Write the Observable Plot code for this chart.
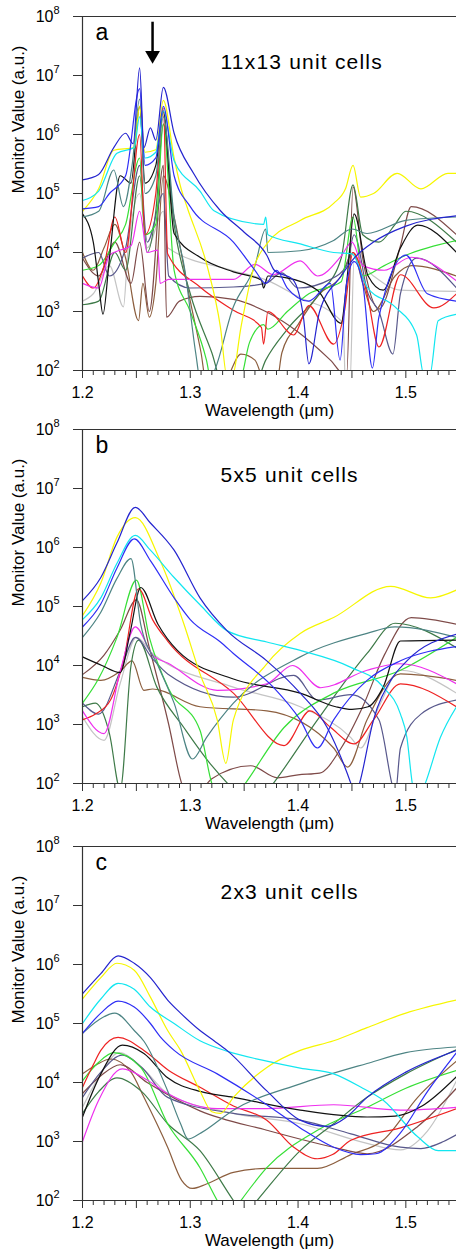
<!DOCTYPE html>
<html><head><meta charset="utf-8">
<script src="https://cdn.jsdelivr.net/npm/d3@7"></script>
<script src="https://cdn.jsdelivr.net/npm/@observablehq/plot@0.6"></script>
<style>
html,body{margin:0;padding:0;background:#fff;overflow:hidden;}
#wrap{position:relative;width:456px;height:1253px;overflow:hidden;}
#wrap svg{position:absolute;left:0;}
</style></head><body><div id="wrap"></div>
<script>
// ---------- axis ticks / labels ----------
const xLabelTicks = [1.2, 1.3, 1.4, 1.5];
const xMidTicks = [1.25, 1.35, 1.45];
const xMinorTicks = [1.21,1.22,1.23,1.24,1.26,1.27,1.28,1.29,1.31,1.32,1.33,1.34,1.36,1.37,1.38,1.39,1.41,1.42,1.43,1.44,1.46,1.47,1.48,1.49,1.51,1.52,1.53,1.54];
const yTicks = [1e2, 1e3, 1e4, 1e5, 1e6, 1e7, 1e8];
const yExponents = ["2", "3", "4", "5", "6", "7", "8"];
const panelLetters = ["a", "b", "c"];
const panelTitles = ["11x13 unit cells", "5x5 unit cells", "2x3 unit cells"];
const xTitle = "Wavelength (\u03bcm)";
const yTitle = "Monitor Value (a.u.)";
const arrowX = [1.265];

// ---------- colours ----------
const BLUE1 = "#2424cf", BLUE2 = "#2e2ef5", YELLOW = "#f6f600", CYAN = "#12e6f0",
      TEAL = "#4d8484", RED = "#ee2222", BLACK = "#111111", GREEN = "#36df36",
      DKGREEN = "#3e7a48", GRAY = "#c4c4c4", SLATE = "#58588c", BROWN = "#8c5e3e",
      BROWN2 = "#7e4a48", MAGENTA = "#ee30ee";

// ---------- panel a : 11x13 unit cells ----------
const a_blue1 = [[1.2,1.7e5],[1.215,2.1e5],[1.229,6e5],[1.24,1.05e6],[1.247,7e5],[1.253,1.35e7],[1.257,6e5],[1.263,1.3e6],[1.268,8e5],[1.275,6.3e6],[1.285,1.05e6],[1.303,2.2e5],[1.328,5.1e4],[1.35,2.2e4],[1.371,9e3],[1.378,5e3],[1.395,3.5e3],[1.405,800],[1.41,130],[1.42,1e3],[1.44,4e3],[1.452,8e3],[1.47,1.5e4],[1.5,2.8e4],[1.547,4.2e4]];
const a_cyan = [[1.2,7.6e4],[1.215,1.1e5],[1.232,4.8e5],[1.248,6e5],[1.253,2e6],[1.258,4e5],[1.268,5e5],[1.275,2.5e6],[1.285,3.6e5],[1.309,1.1e5],[1.322,5.1e4],[1.359,3.1e4],[1.368,3e4],[1.37,4e4],[1.372,2e4],[1.402,1.4e4],[1.433,1e4],[1.45,9.5e3],[1.464,2.6e3],[1.49,1.2e3],[1.51,400],[1.517,80],[1.522,80],[1.53,700],[1.547,900]];
const a_yellow = [[1.2,5e4],[1.215,1.2e5],[1.229,5.4e5],[1.248,6e5],[1.253,3e6],[1.258,5e5],[1.268,5.5e5],[1.275,3.8e6],[1.285,4e5],[1.291,1.3e5],[1.297,5.9e4],[1.316,5.6e3],[1.328,540],[1.334,80],[1.339,80],[1.347,540],[1.359,5.6e3],[1.371,1.4e4],[1.402,3.5e4],[1.433,6.8e4],[1.444,1.2e5],[1.451,3e5],[1.458,8.7e4],[1.47,1e5],[1.492,2.2e5],[1.514,1.2e5],[1.539,2.2e5],[1.547,2.2e5]];
const a_teal = [[1.2,4e4],[1.215,5e4],[1.229,2.5e5],[1.238,6e4],[1.246,3e5],[1.253,4e6],[1.258,1e5],[1.268,2e5],[1.275,2e6],[1.285,4e4],[1.295,5e3],[1.305,200],[1.31,60],[1.32,80],[1.34,1.2e3],[1.36,6e3],[1.37,2.5e4],[1.372,1e4],[1.402,1.07e4],[1.433,1.6e4],[1.45,2.5e4],[1.464,2.1e4],[1.5,3.5e4],[1.547,4e4]];
const a_black = [[1.2,4.5e4],[1.21,1.5e4],[1.215,3e3],[1.219,900],[1.225,8e3],[1.235,2e5],[1.245,1.5e5],[1.253,3e6],[1.258,1.5e5],[1.268,3e5],[1.275,2.5e6],[1.285,2.1e4],[1.309,8.3e3],[1.34,4.7e3],[1.366,3.4e3],[1.368,2.5e3],[1.372,4e3],[1.387,3.8e3],[1.418,2.3e3],[1.44,630],[1.445,3e3],[1.452,4.5e4],[1.465,4e3],[1.479,2.3e3],[1.495,1.2e4],[1.511,2.9e4],[1.547,1e4]];
const a_red = [[1.2,4e3],[1.21,2.5e3],[1.22,6e3],[1.23,4e4],[1.24,1e4],[1.253,1e6],[1.258,2e4],[1.268,1e5],[1.275,2.8e6],[1.279,9.5e3],[1.309,2.6e3],[1.34,1.05e3],[1.366,540],[1.368,280],[1.372,1e3],[1.396,400],[1.41,1.26e3],[1.433,280],[1.443,1e3],[1.451,1e4],[1.464,2e3],[1.475,250],[1.495,4.2e3],[1.526,1.15e3],[1.547,2e3]];
const a_green = [[1.2,5e3],[1.215,6e3],[1.23,1.5e4],[1.24,3e4],[1.253,4e5],[1.258,2e4],[1.268,3e4],[1.275,1.5e6],[1.285,5e3],[1.3,1e3],[1.315,150],[1.32,60],[1.345,60],[1.355,300],[1.368,600],[1.372,500],[1.39,1e3],[1.41,2e3],[1.44,3.2e3],[1.451,4e4],[1.46,4e3],[1.48,6e3],[1.5,9e3],[1.547,1.6e4]];
const a_gray = [[1.2,1.5e3],[1.21,2e3],[1.225,6e3],[1.238,1.2e3],[1.242,1e4],[1.253,1e5],[1.26,1.2e4],[1.275,5e4],[1.279,1.2e4],[1.34,4.9e3],[1.371,3.4e3],[1.402,1.7e3],[1.433,900],[1.442,600],[1.444,50],[1.448,50],[1.452,8e3],[1.47,4e3],[1.495,2.3e3],[1.547,2.2e3]];
const a_magenta = [[1.2,3e3],[1.215,2.5e3],[1.225,9e3],[1.235,1.1e4],[1.245,1.3e4],[1.253,5e4],[1.26,1e4],[1.27,1.1e4],[1.272,3e3],[1.28,3.5e3],[1.34,3.5e3],[1.36,6.3e3],[1.377,4.2e3],[1.402,7.2e3],[1.418,4e3],[1.44,8.7e3],[1.45,1.5e4],[1.46,6e3],[1.48,5e3],[1.505,8.3e3],[1.547,3.3e3]];
const a_brown = [[1.2,1e4],[1.21,5e3],[1.22,1.2e4],[1.23,3e4],[1.24,8e3],[1.252,700],[1.256,3e3],[1.262,800],[1.268,3e3],[1.275,2e5],[1.285,4e4],[1.3,1.5e3],[1.31,200],[1.315,60],[1.33,60],[1.347,190],[1.36,150],[1.37,60],[1.38,60],[1.385,200],[1.4,600],[1.42,2e3],[1.44,4e3],[1.451,1e4],[1.46,3e3],[1.47,1e3],[1.49,4e3],[1.505,6e3],[1.547,4e3]];
const a_brown2 = [[1.2,8e3],[1.215,4e3],[1.23,1.5e4],[1.245,3e3],[1.253,1.5e4],[1.262,1e3],[1.275,3e5],[1.278,800],[1.29,1.5e3],[1.309,1.8e3],[1.34,1.6e3],[1.37,1e3],[1.4,450],[1.43,150],[1.445,80],[1.451,1.3e5],[1.46,8e3],[1.475,1.1e3],[1.495,1.3e4],[1.505,6e4],[1.547,2e4]];
const a_dkgreen = [[1.2,1.3e3],[1.215,1.5e3],[1.23,1e4],[1.24,5e3],[1.253,2e5],[1.26,1e4],[1.268,5e4],[1.275,1.5e6],[1.285,3e4],[1.3,2e3],[1.32,200],[1.33,60],[1.36,60],[1.37,150],[1.39,500],[1.42,2e3],[1.44,8e3],[1.451,1.4e5],[1.46,2e4],[1.475,1.5e4],[1.49,3e4],[1.5,5e4],[1.547,1.5e4]];
const a_slate = [[1.2,8e3],[1.215,1e4],[1.225,4e3],[1.24,1.2e4],[1.253,3e5],[1.26,1.5e4],[1.275,1e5],[1.28,4e3],[1.3,2.5e3],[1.34,2.6e3],[1.37,3e3],[1.385,4.5e3],[1.4,2.5e3],[1.43,3.5e3],[1.445,6e3],[1.452,2e4],[1.465,2e3],[1.475,1e3],[1.488,190],[1.495,2e3],[1.51,8e3],[1.547,2.5e3]];
const a_blue2 = [[1.2,5.5e4],[1.215,6e4],[1.225,1e5],[1.24,2e5],[1.253,6e6],[1.258,3e5],[1.268,4e5],[1.275,3e6],[1.285,2e5],[1.3,6e4],[1.34,1.5e4],[1.36,5e3],[1.37,3e3],[1.38,5e3],[1.39,2.5e3],[1.41,1.5e3],[1.43,3e3],[1.439,150],[1.445,3e3],[1.452,7e3],[1.46,3e3],[1.469,110],[1.475,800],[1.5,9e3],[1.52,2e3],[1.547,1.5e3]];

// ---------- panel b : 5x5 unit cells ----------
const b_blue1 = [[1.2,1.26e5],[1.217,3.1e5],[1.232,1.2e6],[1.249,4.8e6],[1.263,2.6e6],[1.285,9e5],[1.309,1.4e5],[1.334,3.9e4],[1.371,1.2e4],[1.402,3.4e3],[1.427,890],[1.442,220],[1.449,100],[1.453,60],[1.457,100],[1.47,1.2e3],[1.486,5.6e3],[1.501,1.2e4],[1.547,3.4e4]];
const b_yellow = [[1.2,7e4],[1.217,2.5e5],[1.232,1.5e6],[1.249,3.2e6],[1.272,6e5],[1.294,5.1e4],[1.309,7.2e3],[1.325,1.2e3],[1.333,220],[1.34,1.2e3],[1.371,1.07e4],[1.402,3.5e4],[1.433,6.5e4],[1.486,2.2e5],[1.523,1.4e5],[1.547,1.9e5]];
const b_cyan = [[1.2,6e4],[1.217,1.4e5],[1.232,5.4e5],[1.249,1.6e6],[1.263,9e5],[1.285,3.1e5],[1.309,1.07e5],[1.334,3.9e4],[1.371,2.5e4],[1.402,1.8e4],[1.449,9.3e3],[1.479,4.3e3],[1.495,1.5e3],[1.501,600],[1.506,100],[1.511,50],[1.518,100],[1.532,600],[1.547,2e3]];
const b_blue2 = [[1.2,4.5e4],[1.217,1.1e5],[1.232,4.5e5],[1.248,1.4e6],[1.263,6e5],[1.285,1.4e5],[1.3,6e4],[1.328,2.5e4],[1.34,1.6e4],[1.377,4.3e3],[1.402,1.2e3],[1.418,400],[1.433,1.2e3],[1.464,5.6e3],[1.495,1.2e4],[1.547,2.1e4]];
const b_teal = [[1.2,3e4],[1.217,8e4],[1.232,3e5],[1.245,6.5e5],[1.254,5e4],[1.27,1e4],[1.285,2.3e3],[1.302,260],[1.315,600],[1.34,2.3e3],[1.402,1.4e4],[1.464,3.5e4],[1.49,4.5e4],[1.547,3e4]];
const b_red = [[1.2,1.2e3],[1.212,1.5e3],[1.226,2.6e3],[1.238,1.2e4],[1.252,2e5],[1.265,6e4],[1.279,2.6e4],[1.34,3.4e3],[1.387,440],[1.411,1.7e3],[1.43,900],[1.452,470],[1.47,1.2e3],[1.495,4.9e3],[1.547,2e3]];
const b_black = [[1.2,1.4e4],[1.218,1e4],[1.235,7.6e3],[1.244,3.5e4],[1.254,2.1e5],[1.27,5e4],[1.288,1.8e4],[1.34,5.9e3],[1.402,3.4e3],[1.435,2e3],[1.45,1.8e3],[1.465,2e3],[1.479,4.3e3],[1.495,2.6e4],[1.547,2.7e4]];
const b_green = [[1.2,2.3e3],[1.215,6e3],[1.232,3e4],[1.25,2.8e5],[1.262,3e4],[1.28,4e3],[1.309,800],[1.32,100],[1.335,40],[1.351,100],[1.387,890],[1.433,3.4e3],[1.495,8.3e3],[1.547,3e4]];
const b_dkgreen = [[1.2,2e3],[1.212,2.3e3],[1.225,700],[1.235,80],[1.245,1e4],[1.252,2.7e4],[1.269,4.3e3],[1.294,890],[1.32,200],[1.34,80],[1.36,40],[1.377,100],[1.418,1.2e3],[1.464,1.6e4],[1.49,5.2e4],[1.547,2e4]];
const b_gray = [[1.2,1.35e3],[1.22,540],[1.235,5e3],[1.25,3e4],[1.265,1.6e4],[1.34,4.3e3],[1.402,2e3],[1.449,600],[1.458,400],[1.475,2e3],[1.495,8.3e3],[1.547,3.4e3]];
const b_magenta = [[1.2,1.7e3],[1.22,700],[1.235,8e3],[1.249,4.5e4],[1.265,1.5e4],[1.279,1.1e4],[1.325,3.8e3],[1.371,4.9e3],[1.395,1e4],[1.421,4.2e3],[1.464,8.3e3],[1.495,1.07e4],[1.547,4.9e3]];
const b_slate = [[1.2,2.3e3],[1.215,1.5e3],[1.235,8e3],[1.249,3e4],[1.265,1.3e4],[1.279,7.2e3],[1.34,2.9e3],[1.396,6.8e3],[1.418,2.6e3],[1.449,3.2e3],[1.475,1.2e3],[1.487,100],[1.49,60],[1.495,400],[1.514,1.5e3],[1.547,2.6e3]];
const b_brown = [[1.2,6.3e3],[1.217,5.6e3],[1.235,8e3],[1.246,1.2e4],[1.257,3.8e3],[1.265,4e3],[1.309,2e3],[1.371,1.7e3],[1.433,400],[1.446,190],[1.464,1.2e3],[1.495,7.2e3],[1.547,5.6e3]];
const b_brown2 = [[1.2,7e3],[1.22,1.5e4],[1.235,4e4],[1.25,1.3e5],[1.262,2e4],[1.28,1e3],[1.292,100],[1.3,50],[1.32,120],[1.356,200],[1.381,125],[1.4,140],[1.42,150],[1.44,400],[1.46,2e3],[1.48,1.5e4],[1.505,6.5e4],[1.547,5e4]];

// ---------- panel c : 2x3 unit cells ----------
const c_blue1 = [[1.2,3.2e5],[1.217,7e5],[1.233,1.4e6],[1.248,1.05e6],[1.263,6e5],[1.279,2.5e5],[1.291,1.5e5],[1.309,7.6e4],[1.322,5.1e4],[1.334,3.5e4],[1.371,7.2e3],[1.402,2.3e3],[1.427,1.8e3],[1.445,2.6e3],[1.464,5.6e3],[1.5,1.5e4],[1.547,3.5e4]];
const c_yellow = [[1.2,2.6e5],[1.217,6e5],[1.232,1.05e6],[1.248,8e5],[1.263,2.8e5],[1.279,7.6e4],[1.291,3.5e4],[1.309,7.2e3],[1.32,3.2e3],[1.328,3e3],[1.34,5.6e3],[1.371,1.8e4],[1.402,3.5e4],[1.433,5.1e4],[1.464,8.5e4],[1.5,1.5e5],[1.547,2.5e5]];
const c_cyan = [[1.2,1e5],[1.217,2.6e5],[1.233,4.8e5],[1.248,3.8e5],[1.263,1.9e5],[1.285,1e5],[1.309,5.1e4],[1.334,3.4e4],[1.371,2.3e4],[1.402,1.75e4],[1.433,1.4e4],[1.46,8e3],[1.479,5e3],[1.511,1.2e3],[1.53,700],[1.547,700]];
const c_blue2 = [[1.2,6.8e4],[1.217,1.5e5],[1.233,2.4e5],[1.248,1.9e5],[1.263,1e5],[1.272,6e4],[1.285,3.5e4],[1.325,1.4e4],[1.371,4.2e3],[1.402,1.7e3],[1.433,800],[1.458,600],[1.472,620],[1.495,1.4e3],[1.52,7e3],[1.547,3.2e4]];
const c_teal = [[1.2,6.8e4],[1.215,1.15e5],[1.23,1.5e5],[1.248,7.6e4],[1.257,5e4],[1.279,7.2e3],[1.291,2e3],[1.298,1.1e3],[1.31,1.4e3],[1.34,3.4e3],[1.402,9.5e3],[1.464,2.1e4],[1.5,3.2e4],[1.547,4e4]];
const c_red = [[1.2,8.3e3],[1.21,2e4],[1.217,3.5e4],[1.233,5.8e4],[1.257,3.5e4],[1.28,1.6e4],[1.309,8.3e3],[1.34,4e3],[1.371,2.3e3],[1.396,800],[1.418,510],[1.432,600],[1.449,1.05e3],[1.495,1.7e3],[1.547,3.6e3]];
const c_black = [[1.2,2.6e3],[1.217,1.4e4],[1.237,4.3e4],[1.257,3.1e4],[1.279,1.2e4],[1.31,7e3],[1.34,5.6e3],[1.402,3.4e3],[1.464,2.6e3],[1.49,2.7e3],[1.515,4e3],[1.547,1.26e4]];
const c_green = [[1.2,1.07e4],[1.215,2.2e4],[1.229,3.2e4],[1.254,1.8e4],[1.279,2e3],[1.309,360],[1.325,100],[1.335,50],[1.347,100],[1.371,360],[1.418,1.55e3],[1.464,3.8e3],[1.5,8e3],[1.547,1.6e4]];
const c_dkgreen = [[1.2,3e3],[1.215,7e3],[1.232,1.2e4],[1.255,7e3],[1.279,2e3],[1.309,700],[1.34,100],[1.35,55],[1.362,100],[1.402,700],[1.433,2e3],[1.464,5.6e3],[1.5,1.4e4],[1.547,3.6e4]];
const c_brown = [[1.2,1.4e4],[1.213,2e4],[1.226,2.5e4],[1.245,1.5e4],[1.257,5.6e3],[1.279,800],[1.292,220],[1.302,160],[1.315,190],[1.34,300],[1.371,350],[1.418,350],[1.449,600],[1.479,1.05e3],[1.511,5.6e3],[1.547,2.3e4]];
const c_gray = [[1.2,3.8e3],[1.217,1.4e4],[1.234,3.2e4],[1.255,1.8e4],[1.279,6.5e3],[1.34,3e3],[1.402,2e3],[1.464,930],[1.495,720],[1.52,1.5e3],[1.547,1.07e4]];
const c_slate = [[1.2,5.6e3],[1.217,1.5e4],[1.237,2.9e4],[1.255,1.8e4],[1.279,5.6e3],[1.34,3e3],[1.402,2.3e3],[1.449,1.35e3],[1.495,800],[1.514,760],[1.535,1e3],[1.547,1.3e3]];
const c_brown2 = [[1.2,6.5e3],[1.217,1.3e4],[1.235,2e4],[1.26,1e4],[1.309,3.3e3],[1.371,1.55e3],[1.433,800],[1.464,620],[1.511,1.8e3],[1.547,8e3]];
const c_magenta = [[1.2,1e3],[1.215,5e3],[1.237,1.7e4],[1.26,1.1e4],[1.279,6.5e3],[1.325,3.6e3],[1.371,3.6e3],[1.433,4.2e3],[1.495,3.4e3],[1.547,3.8e3]];

const panelA = [
  [a_gray, GRAY], [a_brown, BROWN], [a_brown2, BROWN2], [a_dkgreen, DKGREEN], [a_slate, SLATE],
  [a_green, GREEN], [a_red, RED], [a_magenta, MAGENTA], [a_black, BLACK], [a_teal, TEAL],
  [a_yellow, YELLOW], [a_cyan, CYAN], [a_blue2, BLUE2], [a_blue1, BLUE1]
];
const panelB = [
  [b_gray, GRAY], [b_brown, BROWN], [b_brown2, BROWN2], [b_dkgreen, DKGREEN], [b_slate, SLATE],
  [b_green, GREEN], [b_red, RED], [b_magenta, MAGENTA], [b_black, BLACK], [b_teal, TEAL],
  [b_yellow, YELLOW], [b_cyan, CYAN], [b_blue2, BLUE2], [b_blue1, BLUE1]
];
const panelC = [
  [c_gray, GRAY], [c_brown, BROWN], [c_brown2, BROWN2], [c_dkgreen, DKGREEN], [c_slate, SLATE],
  [c_green, GREEN], [c_red, RED], [c_magenta, MAGENTA], [c_black, BLACK], [c_teal, TEAL],
  [c_yellow, YELLOW], [c_cyan, CYAN], [c_blue2, BLUE2], [c_blue1, BLUE1]
];

const AXIS = "#333";
const FONT = "'Liberation Sans', Arial, Helvetica, sans-serif";
const wrap = document.getElementById("wrap");
const panelTops = [0, 413, 830];
const panelSeries = [panelA, panelB, panelC];

panelSeries.forEach((series, i) => {
  const marks = [
    ...series.map(([pts, color]) => Plot.line(pts, {
      x: d => d[0], y: d => d[1], stroke: color, strokeWidth: 1.2,
      curve: "monotone-x", clip: true
    })),
    Plot.ruleX([1.2], {stroke: AXIS, strokeWidth: 1.2}),
    Plot.ruleY([1e2], {stroke: AXIS, strokeWidth: 1.2}),
    Plot.ruleY([1e8], {stroke: AXIS, strokeWidth: 1.2}),
    Plot.axisY({ticks: yTicks, tickSize: 9, tickFormat: () => "", stroke: AXIS, label: null}),
    Plot.text(yTicks, {x: 1.2, y: d => d, text: () => "10", textAnchor: "end", dx: -29, fontSize: 16}),
    Plot.text(yTicks, {x: 1.2, y: d => d, text: (d, j) => yExponents[j], textAnchor: "start", dx: -29, dy: -6, fontSize: 11}),
    Plot.axisX({ticks: xLabelTicks, tickSize: 8, tickPadding: 8, fontSize: 16, tickFormat: d => d.toFixed(1), stroke: AXIS, label: null}),
    Plot.axisX({ticks: xMidTicks, tickSize: 8, tickFormat: () => "", stroke: AXIS, label: null}),
    Plot.axisX({ticks: xMinorTicks, tickSize: 5, tickFormat: () => "", stroke: AXIS, label: null}),
    Plot.text([panelLetters[i]], {text: d => d, frameAnchor: "top-left", dx: 13, dy: 23, lineAnchor: "bottom", textAnchor: "start", fontSize: 23}),
    Plot.text([panelTitles[i]], {text: d => d, frameAnchor: "top-left", dx: 138, dy: 52, lineAnchor: "bottom", textAnchor: "start", fontSize: 21}),
    Plot.text([xTitle], {text: d => d, frameAnchor: "bottom", dy: 45, lineAnchor: "bottom", fontSize: 17}),
    Plot.text([yTitle], {text: d => d, frameAnchor: "left", dx: -64, rotate: -90, fontSize: 17})
  ];
  if (i === 0) {
    marks.push(Plot.ruleX(arrowX, {x: d => d, y1: 8e7, y2: 2.4e7, stroke: "black", strokeWidth: 2.5}));
    marks.push(Plot.dot(arrowX, {x: d => d, y: 2.2e7, symbol: "triangle", r: 5.5, fill: "black", stroke: "none", rotate: 180}));
  }
  const svg = Plot.plot({
    width: 456, height: 420,
    marginLeft: 82, marginRight: 0, marginTop: 16, marginBottom: 50,
    x: {domain: [1.2, 1.547]},
    y: {type: "log", domain: [1e2, 1e8]},
    style: {fontFamily: FONT, background: "transparent", overflow: "visible", color: "#000"},
    marks
  });
  svg.style.top = panelTops[i] + "px";
  svg.querySelectorAll("text").forEach(t => {
    if (t.textContent === panelTitles[i]) t.style.letterSpacing = "1.2px";
  });
  wrap.appendChild(svg);
});
</script>
</body></html>
